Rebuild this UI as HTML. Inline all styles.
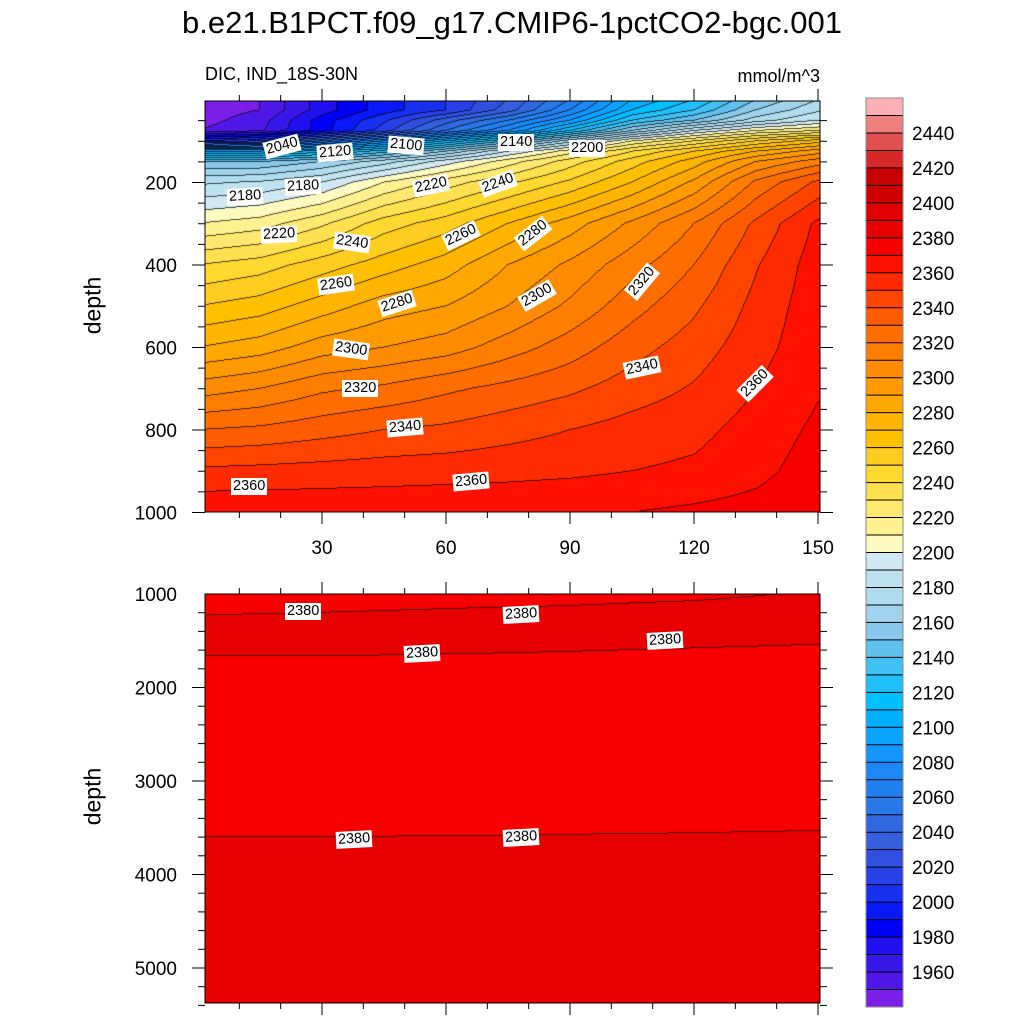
<!DOCTYPE html>
<html><head><meta charset="utf-8">
<style>
html,body{margin:0;padding:0;background:#fff;}
#wrap{position:relative;width:1024px;height:1024px;overflow:hidden;font-family:"Liberation Sans",sans-serif;}
canvas{position:absolute;}
.t{position:absolute;white-space:nowrap;color:#000;}
.lab{position:absolute;background:#fff;font-size:14.5px;padding:0 2px;line-height:17px;transform-origin:center center;}
</style></head><body>
<div id="wrap">
<div class="t" style="left:0;width:1024px;text-align:center;top:5px;font-size:31px;">b.e21.B1PCT.f09_g17.CMIP6-1pctCO2-bgc.001</div>
<div class="t" style="left:205px;top:64px;font-size:18px;">DIC, IND_18S-30N</div>
<div class="t" style="left:680px;width:140px;text-align:right;top:66px;font-size:18px;">mmol/m^3</div>
<div class="t" style="left:53px;top:292px;width:80px;text-align:center;font-size:23px;transform:rotate(-90deg);">depth</div>
<div class="t" style="left:53px;top:783px;width:80px;text-align:center;font-size:23px;transform:rotate(-90deg);">depth</div>
<canvas id="cu" width="615" height="411" style="left:205px;top:101px"></canvas>
<canvas id="cl" width="615" height="409" style="left:205px;top:594px"></canvas>
<svg id="ov" width="1024" height="1024" style="position:absolute;left:0;top:0"></svg>
<div id="labs"></div>
</div>
<script>
// ---- data ----
const lats = [0,15,30,45,60,75,90,105,120,135,150];
const upperDepths = [0,25,50,75,100,125,150,200,300,400,500,600,700,800,900,1000];
const upperVals = [
[1945,1950,1975,1995,2010,2030,2060,2100,2120,2150,2170],
[1945,1950,1975,1995,2010,2035,2070,2110,2130,2160,2178],
[1946,1955,1985,2008,2035,2060,2090,2130,2150,2175,2190],
[1950,1958,1985,2015,2050,2080,2120,2160,2190,2210,2220],
[2010,2020,2050,2080,2110,2140,2175,2210,2230,2250,2265],
[2100,2100,2115,2135,2160,2190,2215,2240,2260,2280,2295],
[2150,2150,2160,2175,2195,2215,2235,2255,2275,2300,2315],
[2178,2181,2190,2210,2225,2238,2252,2270,2292,2322,2342],
[2210,2215,2228,2245,2255,2270,2285,2302,2320,2342,2362],
[2240,2245,2255,2265,2275,2290,2302,2316,2330,2349,2365],
[2260,2265,2275,2285,2290,2300,2312,2326,2338,2353,2366],
[2280,2285,2295,2300,2305,2315,2325,2336,2345,2356,2367],
[2305,2310,2318,2322,2328,2333,2338,2345,2351,2360,2369],
[2330,2332,2336,2340,2342,2346,2350,2354,2357,2364,2372],
[2352,2353,2354,2355,2356,2357,2358,2360,2362,2367,2375],
[2368,2368,2368,2368,2368,2368,2369,2370,2372,2374,2378]];
const lowerDepths = [1000,1400,1600,1800,2500,3400,3500,3700,5400];
const lowerVals = [
[2376,2376.5,2377,2377.5,2378,2378.3,2378.6,2379,2379.3,2379.8,2380.3],
[2383,2383,2383,2383,2383,2383,2383,2383,2383,2383,2383],
[2381,2381,2381,2380.8,2380.6,2380.4,2380.2,2380,2379.7,2379.3,2378.8],
[2378,2378,2378,2378,2378,2378,2378,2378,2378,2378,2378],
[2377,2377,2377,2377,2377,2377,2377,2377,2377,2377,2377],
[2378.5,2378.5,2378.5,2378.5,2378.6,2378.6,2378.7,2378.8,2378.9,2379,2379.1],
[2379,2379,2379,2379.1,2379.2,2379.3,2379.4,2379.5,2379.6,2379.7,2379.8],
[2381,2381,2381,2381,2381,2381,2381,2381,2381,2381,2381],
[2383,2383,2383,2383,2383,2383,2383,2383,2383,2383,2383]];
const levelMin = 1940, levelStep = 10;
const levelColors = ["#7a1ee8","#5018e8","#3818e8","#2010f0","#0000f8","#0818f8","#1830f0","#2840e8","#3050e0","#3460e0","#3068e0","#2878e8","#2080f0","#1c88f8","#1494ff","#08a4ff","#00b0ff","#00c0ff","#20c0fa","#40c0f4","#60c0ee","#88c8ea","#a0d4ec","#b0dcee","#bfe2f0","#d0e8f4",
"#fffac0","#fff090","#ffe870","#ffe050","#ffd830","#ffcc20","#ffc000","#ffb400","#ffa800","#ff9a00","#ff8c00","#ff7e00","#ff6e00","#ff5c00","#ff4400","#ff2a00","#ff1000","#f80000","#e80000","#e00000","#d00000","#c80000","#d82828","#e05050","#f08080","#ffb0b4"];
const cbTicks = [1960,1980,2000,2020,2040,2060,2080,2100,2120,2140,2160,2180,2200,2220,2240,2260,2280,2300,2320,2340,2360,2380,2400,2420,2440];
const xTicks = [30,60,90,120,150];
const upperYTicks = [200,400,600,800,1000];
const lowerYTicks = [1000,2000,3000,4000,5000];
const upperLabels = [["2040",283,147,-15],["2120",336,153,-5],["2100",407,146,5],["2140",517,143,0],["2200",588,149,0],["2180",246,197,-3],["2180",304,187,-3],["2220",432,186,-12],["2240",499,184,-20],["2220",280,235,-3],["2240",353,243,8],["2260",462,236,-25],["2280",534,234,-38],["2260",337,285,-8],["2280",398,304,-18],["2300",538,296,-30],["2320",643,282,-50],["2300",352,350,8],["2320",361,389,0],["2340",406,428,-5],["2340",643,368,-12],["2360",756,384,-45],["2360",250,487,0],["2360",472,482,-5]];
const lowerLabels = [["2380",304,612,0],["2380",522,615,-3],["2380",423,654,-3],["2380",666,641,-3],["2380",355,840,-3],["2380",522,838,-3]];

// ---- axis functions ----
const xPix = v => 198 + v*124/30;
const latOf = px => (px-198)*30/124;
const yUp = d => 100 + d*0.4125;
const yLo = d => 594 + (d-1000)*0.0935;
const cbTop = 98, cbBot = 1007, cbMax = 2460;
const cbY = v => cbTop + (cbMax - v)*(cbBot-cbTop)/(levelColors.length*levelStep);

function interp(depths, vals, lat, d){
  let i=0; while(i<depths.length-2 && d>depths[i+1]) i++;
  let fy=(d-depths[i])/(depths[i+1]-depths[i]); fy=Math.max(0,Math.min(1,fy));
  let fl=lat/15; let j=Math.max(0,Math.min(lats.length-2,Math.floor(fl))); let fx=Math.max(0,Math.min(1,fl-j));
  const a=vals[i][j],b=vals[i][j+1],c=vals[i+1][j],e=vals[i+1][j+1];
  return (a*(1-fx)+b*fx)*(1-fy)+(c*(1-fx)+e*fx)*fy;
}
function hex(h){return [parseInt(h.substr(1,2),16),parseInt(h.substr(3,2),16),parseInt(h.substr(5,2),16)];}
const rgb = levelColors.map(hex);
function render(id, x0, y0, depths, vals, depthOf){
  const cv=document.getElementById(id), ctx=cv.getContext('2d'), W=cv.width, H=cv.height;
  const lv=new Int16Array(W*H);
  for(let y=0;y<H;y++){const d=depthOf(y0+y+0.5);for(let x=0;x<W;x++){
    const v=interp(depths,vals,latOf(x0+x+0.5),d);
    lv[y*W+x]=Math.max(0,Math.min(levelColors.length-1,Math.floor((v-levelMin)/levelStep)));}}
  const img=ctx.createImageData(W,H);
  for(let y=0;y<H;y++)for(let x=0;x<W;x++){
    const k=y*W+x,l=lv[k];let c=rgb[l];
    let edge=(x<W-1&&lv[k+1]!==l)||(y<H-1&&lv[k+W]!==l);
    const p=k*4;
    if(edge){img.data[p]=c[0]*0.3;img.data[p+1]=c[1]*0.3;img.data[p+2]=c[2]*0.3;}
    else{img.data[p]=c[0];img.data[p+1]=c[1];img.data[p+2]=c[2];}
    img.data[p+3]=255;}
  ctx.putImageData(img,0,0);
}
render('cu',205,101,upperDepths,upperVals,py=>(py-100)/0.4125);
render('cl',205,594,lowerDepths,lowerVals,py=>1000+(py-594)/0.0935);

// ---- overlay ----
const NS="http://www.w3.org/2000/svg", ov=document.getElementById('ov');
function mk(tag,attrs){const e=document.createElementNS(NS,tag);for(const k in attrs)e.setAttribute(k,attrs[k]);ov.appendChild(e);return e;}
function line(x1,y1,x2,y2,w){return mk('line',{x1,y1,x2,y2,stroke:'#000','stroke-width':w||1});}
function txt(s,x,y,anchor,size){const t=mk('text',{x,y,'text-anchor':anchor,'font-size':size,'font-family':'Liberation Sans, sans-serif'});t.textContent=s;return t;}
const fu=mk('rect',{x:205,y:101,width:615,height:411,fill:'none',stroke:'#000','stroke-width':1});

const fl=mk('rect',{x:205,y:594,width:615,height:409,fill:'none',stroke:'#000','stroke-width':1});

for(let v=10;v<=150;v+=10){const x=xPix(v),maj=v%30===0,L=maj?12:6;
  for(const [yt,yb] of [[101,512],[594,1003]]){line(x,yt-L,x,yt);line(x,yb,x,yb+L);}}
xTicks.forEach(v=>{const t=txt(String(v),xPix(v),554,'middle',19);
  
  });
for(let d=50;d<=1000;d+=50){const y=yUp(d),maj=d%200===0,L=maj?13:7;line(205-L,y,205,y);line(820,y,820+L,y);}
upperYTicks.forEach(d=>{const t=txt(String(d),177,yUp(d)+7,'end',19);
  
  });
for(let d=1200;d<=5400;d+=200){const y=yLo(d),maj=d%1000===0,L=maj?13:7;line(205-L,y,205,y);line(820,y,820+L,y);}
lowerYTicks.forEach(d=>{const t=txt(String(d),177,yLo(d)+7,'end',19);
  
  });
levelColors.forEach((c,i)=>{const v0=levelMin+i*levelStep;const yb=cbY(v0),yt=cbY(v0+levelStep);
  const r=mk('rect',{x:866,y:yt,width:37,height:yb-yt,fill:c});
  
  
  if(i>0)line(866,yb,903,yb,1);});
mk('rect',{x:866,y:cbTop,width:37,height:cbBot-cbTop,fill:'none',stroke:'#888','stroke-width':1});
cbTicks.forEach(v=>{const t=txt(String(v),912,cbY(v)+7,'start',19);
  
  });
const labs=document.getElementById('labs');
upperLabels.concat(lowerLabels).forEach(l=>{const d=document.createElement('div');d.className='lab';d.textContent=l[0];
  
  
  d.style.left=(l[1]-19)+'px';d.style.top=(l[2]-9)+'px';d.style.transform='rotate('+l[3]+'deg)';labs.appendChild(d);});
</script>
</body></html>
